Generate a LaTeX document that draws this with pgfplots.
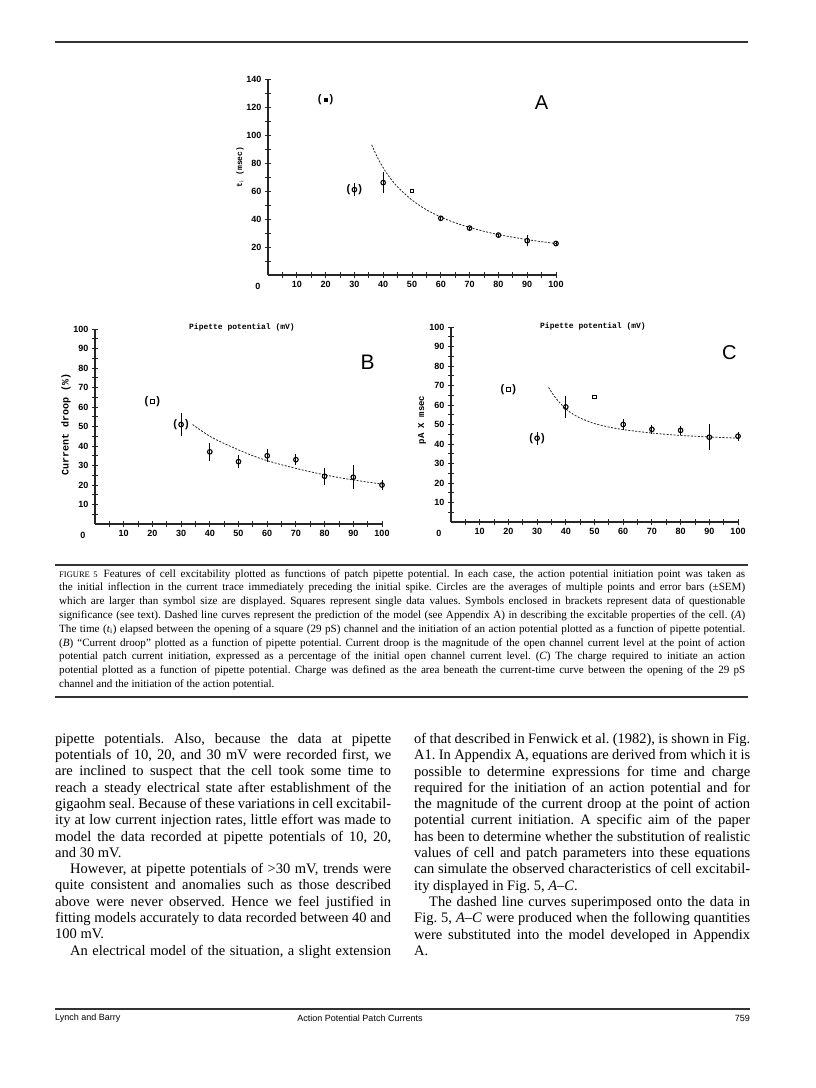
\documentclass[border=0pt]{standalone}
\usepackage{pgfplots}
\pgfplotsset{compat=1.18}
\usepackage{fontspec}
\setmainfont{Liberation Serif}
\newfontfamily\plotfont{Liberation Sans}
\newfontfamily\plotmono{Liberation Mono}
\newcommand{\jl}[2]{\makebox[#1][s]{#2}}

\pgfplotsset{
  panel/.style={
    scale only axis, anchor=south west,
    axis lines*=left,
    axis line style={line width=1.1pt, black!85, -},
    xmin=0, xmax=100, ymin=0,
    clip=false,
    tick align=center,
    major tick length=6pt, minor tick length=6pt,
    every tick/.style={line width=0.9pt, black!85},
    xtick={10,20,...,100}, minor xtick={5,15,...,95},
    ticklabel style={font=\plotfont\bfseries\fontsize{9}{10}\selectfont},
    /pgf/number format/assume math mode=true,
  },
  pts/.style={only marks, mark=o, mark size=2.3pt,
    mark options={line width=1.1pt, fill=white, solid},
    error bars/y dir=both, error bars/y explicit,
    error bars/error bar style={line width=0.9pt}, error bars/error mark=-,
    error bars/error mark options={line width=0.9pt, mark size=1.5pt}},
  brk/.style={only marks, mark=text,
    text mark={\plotfont\bfseries\fontsize{11}{11}\selectfont(\hspace{8pt})}},
  fit/.style={smooth, line width=0.8pt, black!85, dash pattern=on 2pt off 1.5pt},
}

\begin{document}
\frenchspacing
\begin{tikzpicture}
\path[fill=white] (0pt,0pt) rectangle (816pt,-1088pt);
\draw[line width=1.3pt, black!80] (55pt,-42pt) -- (748pt,-42pt);

% ---- panel A ----
\begin{axis}[panel, at={(268pt,-275pt)}, width=288pt, height=196pt,
    ymax=140, ytick={20,40,...,140}, minor ytick={10,30,...,130}]
  \addplot[fit] coordinates {
    (36,93) (38,84) (40,76.6) (42,70.4) (45,62.9) (50,53.5) (55,46.6)
    (60,41.4) (65,37.3) (70,34) (75,31.2) (80,28.9) (85,27) (90,25.3)
    (95,23.8) (100,22.5)};
  \addplot[pts] coordinates {(30,61) +- (0,3.5) (40,66) +- (0,6.5)};
  \addplot[pts, mark options={line width=1.1pt, fill=black!75, solid}] coordinates {
    (60,40.5) +- (0,0) (70,33.5) +- (0,0) (80,28.5) +- (0,0)
    (90,24.5) +- (0,3) (100,22.5) +- (0,0)};
  \addplot[only marks, mark=square*, mark size=1.6pt] coordinates {(20,125)};
  \addplot[only marks, mark=square, mark size=1.8pt, line width=0.9pt] coordinates {(50,60)};
  \addplot[brk] coordinates {(20,125) (30,61)};
  \node[font=\plotfont\bfseries\fontsize{9}{10}\selectfont] at (axis cs:0,0) [xshift=-10pt, yshift=-11pt] {0};
  \node[font=\plotfont\fontsize{20}{20}\selectfont] at (axis cs:95,123) {A};
\end{axis}
\node[rotate=90, font=\plotmono\bfseries\fontsize{8}{9}\selectfont] at (240pt,-167pt) {t$_{\mathrm{i}}$ (msec)};

% ---- panel B ----
\begin{axis}[panel, at={(95pt,-524pt)}, width=287pt, height=195pt,
    ymax=100, ytick={10,20,...,100}, minor ytick={5,15,...,95}]
  \addplot[fit] coordinates {
    (34,51) (40,45) (45,41.3) (50,38) (55,35) (60,32.5) (65,30.4) (70,28.5)
    (75,26.8) (80,25.2) (85,23.8) (90,22.6) (95,21.5) (100,20.5)};
  \addplot[pts] coordinates {
    (30,51) +- (0,5) (40,37) +- (0,4) (50,32) +- (0,2.5) (60,35) +- (0,2.5)
    (70,33) +- (0,2) (80,24.5) +- (0,3.5) (90,24) +- (0,5.5) (100,20) +- (0,1.8)};
  \addplot[only marks, mark=square, mark size=1.8pt, line width=0.9pt] coordinates {(20,63)};
  \addplot[brk] coordinates {(20,63) (30,51)};
  \node[font=\plotfont\bfseries\fontsize{9}{10}\selectfont] at (axis cs:0,0) [xshift=-12pt, yshift=-11pt] {0};
  \node[font=\plotfont\fontsize{21}{21}\selectfont] at (axis cs:95,83) {B};
\end{axis}
\node[rotate=90, font=\plotmono\bfseries\fontsize{10}{11}\selectfont] at (66pt,-424pt) {Current droop (\%)};
\node[font=\plotmono\bfseries\fontsize{8}{9}\selectfont] at (242pt,-327pt) {Pipette potential (mV)};

% ---- panel C ----
\begin{axis}[panel, at={(451pt,-522pt)}, width=287pt, height=195pt,
    ymax=100, ytick={10,20,...,100}, minor ytick={5,15,...,95}]
  \addplot[fit] coordinates {
    (34,69) (36,64.5) (38,61) (40,58) (42,55.8) (45,53.3) (50,50.5) (55,48.7)
    (60,47.4) (70,45.6) (80,44.4) (90,43.6) (100,43)};
  \addplot[pts] coordinates {
    (30,43) +- (0,2.5) (40,59) +- (0,5) (60,50) +- (0,2) (70,47.5) +- (0,1.5)
    (80,47) +- (0,1.5) (90,43.5) +- (0,6) (100,44) +- (0,1.5)};
  \addplot[only marks, mark=square, mark size=1.6pt, line width=0.9pt] coordinates {(20,68) (50,64)};
  \addplot[brk] coordinates {(20,68) (30,43)};
  \node[font=\plotfont\bfseries\fontsize{9}{10}\selectfont] at (axis cs:0,0) [xshift=-12pt, yshift=-11pt] {0};
  \node[font=\plotfont\fontsize{20}{20}\selectfont] at (axis cs:97,87) {C};
\end{axis}
\node[rotate=90, font=\plotmono\bfseries\fontsize{9}{10}\selectfont] at (422pt,-420pt) {pA X msec};
\node[font=\plotmono\bfseries\fontsize{8}{9}\selectfont] at (593pt,-326pt) {Pipette potential (mV)};

% ---- caption ----
\draw[line width=1.2pt, black!80] (55pt,-565pt) -- (748pt,-565pt);
\draw[line width=1.2pt, black!80] (55pt,-697pt) -- (748pt,-697pt);
\node[anchor=north west, align=left, inner sep=0pt,
      font=\fontsize{11.1}{13.8}\selectfont] at (59pt,-569pt) {%
\jl{686pt}{{\fontsize{8.5}{9}\selectfont FIGURE 5}\hspace{6pt}Features of cell excitability plotted as functions of patch pipette potential. In each case, the action potential initiation point was taken as}\\
\jl{686pt}{the initial inflection in the current trace immediately preceding the initial spike. Circles are the averages of multiple points and error bars (±SEM)}\\
\jl{686pt}{which are larger than symbol size are displayed. Squares represent single data values. Symbols enclosed in brackets represent data of questionable}\\
\jl{686pt}{significance (see text). Dashed line curves represent the prediction of the model (see Appendix A) in describing the excitable properties of the cell. (\textit{A})}\\
\jl{686pt}{The time (\textit{t}$_{\mathrm{i}}$) elapsed between the opening of a square (29 pS) channel and the initiation of an action potential plotted as a function of pipette potential.}\\
\jl{686pt}{(\textit{B}) “Current droop” plotted as a function of pipette potential. Current droop is the magnitude of the open channel current level at the point of action}\\
\jl{686pt}{potential patch current initiation, expressed as a percentage of the initial open channel current level. (\textit{C}) The charge required to initiate an action}\\
\jl{686pt}{potential plotted as a function of pipette potential. Charge was defined as the area beneath the current-time curve between the opening of the 29 pS}\\
channel and the initiation of the action potential.};

% ---- body text ----
\node[anchor=north west, align=left, inner sep=0pt,
      font=\fontsize{14.5}{16.3}\selectfont] at (55pt,-733pt) {%
\jl{336pt}{pipette potentials. Also, because the data at pipette}\\
\jl{336pt}{potentials of 10, 20, and 30 mV were recorded first, we}\\
\jl{336pt}{are inclined to suspect that the cell took some time to}\\
\jl{336pt}{reach a steady electrical state after establishment of the}\\
\jl{336pt}{gigaohm seal. Because of these variations in cell excitabil-}\\
\jl{336pt}{ity at low current injection rates, little effort was made to}\\
\jl{336pt}{model the data recorded at pipette potentials of 10, 20,}\\
and 30 mV.\\
\jl{336pt}{\hspace*{15pt}However, at pipette potentials of >30 mV, trends were}\\
\jl{336pt}{quite consistent and anomalies such as those described}\\
\jl{336pt}{above were never observed. Hence we feel justified in}\\
\jl{336pt}{fitting models accurately to data recorded between 40 and}\\
100 mV.\\
\jl{336pt}{\hspace*{15pt}An electrical model of the situation, a slight extension}};

\node[anchor=north west, align=left, inner sep=0pt,
      font=\fontsize{14.5}{16.3}\selectfont] at (414pt,-733pt) {%
\jl{336pt}{of that described in Fenwick et al. (1982), is shown in Fig.}\\
\jl{336pt}{A1. In Appendix A, equations are derived from which it is}\\
\jl{336pt}{possible to determine expressions for time and charge}\\
\jl{336pt}{required for the initiation of an action potential and for}\\
\jl{336pt}{the magnitude of the current droop at the point of action}\\
\jl{336pt}{potential current initiation. A specific aim of the paper}\\
\jl{336pt}{has been to determine whether the substitution of realistic}\\
\jl{336pt}{values of cell and patch parameters into these equations}\\
\jl{336pt}{can simulate the observed characteristics of cell excitabil-}\\
ity displayed in Fig. 5, \textit{A–C}.\\
\jl{336pt}{\hspace*{15pt}The dashed line curves superimposed onto the data in}\\
\jl{336pt}{Fig. 5, \textit{A–C} were produced when the following quantities}\\
\jl{336pt}{were substituted into the model developed in Appendix}\\
A.};

% ---- footer ----
\draw[line width=1.2pt, black!80] (55pt,-1009pt) -- (750pt,-1009pt);
\node[anchor=west, font=\plotfont\fontsize{9}{10}\selectfont, inner sep=0pt] at (55pt,-1018pt) {Lynch and Barry};
\node[font=\plotfont\fontsize{9}{10}\selectfont, inner sep=0pt] at (360pt,-1018pt) {Action Potential Patch Currents};
\node[anchor=east, font=\plotfont\fontsize{9}{10}\selectfont, inner sep=0pt] at (750pt,-1018pt) {759};
\end{tikzpicture}
\end{document}
